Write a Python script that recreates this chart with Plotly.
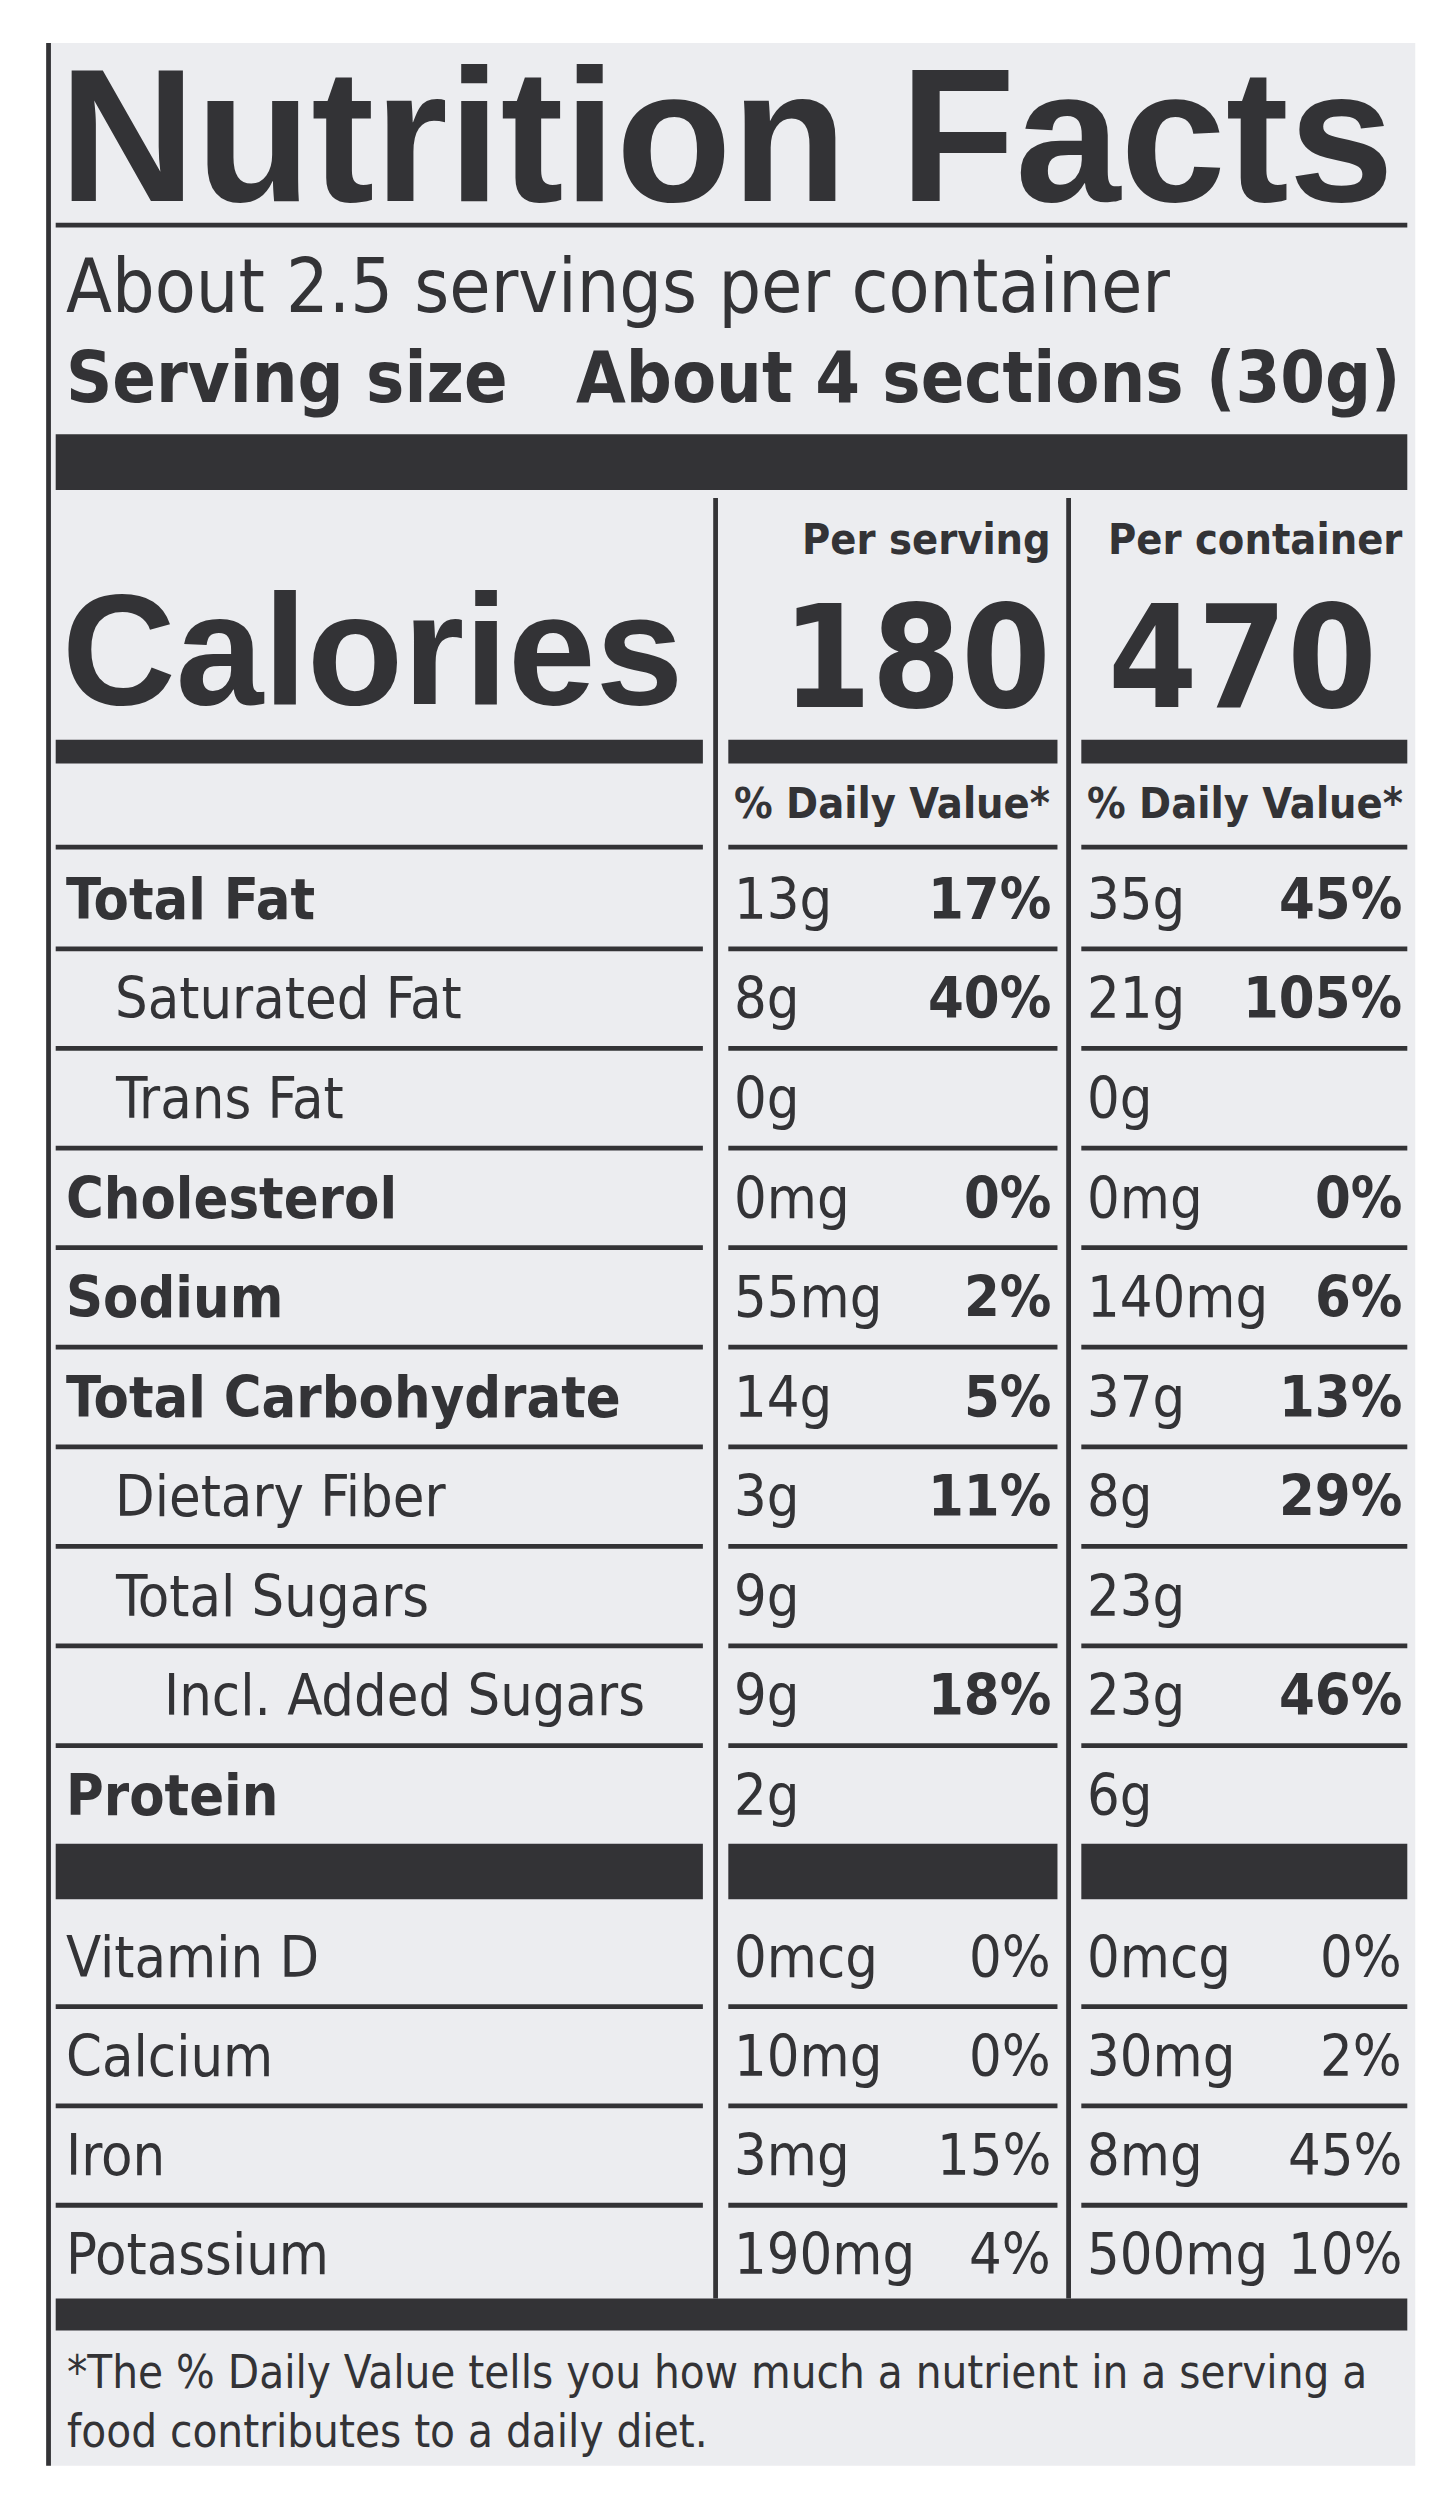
import plotly.graph_objects as go

# Nutrition label content
title = "Nutrition Facts"
servings_text = "About 2.5 servings per container"
serving_size_label = "Serving size"
serving_size_value = "About 4 sections (30g)"
calories_serving = "180"
calories_container = "470"

nutrients = ["Total Fat", "Saturated Fat", "Trans Fat", "Cholesterol", "Sodium",
             "Total Carbohydrate", "Dietary Fiber", "Total Sugars", "Incl. Added Sugars", "Protein"]
nutrient_bold = [True, False, False, True, True, True, False, False, False, True]
nutrient_indent = [0, 1, 1, 0, 0, 0, 1, 1, 2, 0]
amt_serving = ["13g", "8g", "0g", "0mg", "55mg", "14g", "3g", "9g", "9g", "2g"]
dv_serving = ["17%", "40%", "", "0%", "2%", "5%", "11%", "", "18%", ""]
amt_container = ["35g", "21g", "0g", "0mg", "140mg", "37g", "8g", "23g", "23g", "6g"]
dv_container = ["45%", "105%", "", "0%", "6%", "13%", "29%", "", "46%", ""]

vitamins = ["Vitamin D", "Calcium", "Iron", "Potassium"]
vit_amt_serving = ["0mcg", "10mg", "3mg", "190mg"]
vit_dv_serving = ["0%", "0%", "15%", "4%"]
vit_amt_container = ["0mcg", "30mg", "8mg", "500mg"]
vit_dv_container = ["0%", "2%", "45%", "10%"]

footnote = ("*The % Daily Value tells you how much a nutrient in a serving a<br>"
            "food contributes to a daily diet.")

S = 1447 / 910  # display-to-pixel scale
INK = "#333336"
BG = "#ecedf0"
NARROW = "Liberation Sans Narrow, DejaVu Sans Condensed, Arial Narrow, sans-serif"
WIDE = "Liberation Sans, Arial, sans-serif"

shapes = []
annotations = []


def rect(x0, y0, x1, y1, color=INK):
    shapes.append(dict(type="rect", xref="x", yref="y", x0=x0, y0=y0, x1=x1, y1=y1,
                       fillcolor=color, line=dict(width=0), layer="below"))


def text(x, y, s, size, bold=False, anchor="left", family=NARROW):
    if bold:
        s = "<b>" + s + "</b>"
    annotations.append(dict(x=x, y=y, xref="x", yref="y", text=s, showarrow=False,
                            xanchor=anchor, yanchor="middle",
                            font=dict(size=size * S, color=INK, family=family)))


# label background and left border
rect(24, 22, 885, 1545, BG)
rect(24, 22, 27, 1545)

L, C1a, C1b, C2a, C2b, R = 30, 437, 453, 660, 675, 880
V1, V2 = 445, 667

text(31, 80, title, 119, True, family=WIDE)
rect(L, 135, R, 138)
text(35, 175, servings_text, 47)
text(35, 232, serving_size_label, 45, True)
text(877, 232, serving_size_value, 45, True, anchor="right")
rect(L, 268, R, 303)

# column separators
rect(V1 - 1.5, 308, V1 + 1.5, 1440)
rect(V2 - 1.5, 308, V2 + 1.5, 1440)

text(657, 334, "Per serving", 27, True, anchor="right")
text(878, 334, "Per container", 27, True, anchor="right")
text(33, 403, "Calories", 99, True, family=WIDE)
text(657, 408, calories_serving, 90, True, anchor="right")
text(862, 408, calories_container, 90, True, anchor="right")

for a, b in [(L, C1a), (C1b, C2a), (C2b, R)]:
    rect(a, 460, b, 475)
    rect(a, 526, b, 529)
text(455, 500, "% Daily Value*", 27, True)
text(677, 500, "% Daily Value*", 27, True)


def row(y, name, bold, indent, a1, d1, a2, d2, dv_bold):
    text(35 + indent * 31, y, name, 36, bold)
    text(455, y, a1, 36)
    text(657, y, d1, 36, dv_bold, anchor="right")
    text(677, y, a2, 36)
    text(878, y, d2, 36, dv_bold, anchor="right")


y = 560
for i in range(len(nutrients)):
    row(y, nutrients[i], nutrient_bold[i], nutrient_indent[i],
        amt_serving[i], dv_serving[i], amt_container[i], dv_container[i], True)
    if i < len(nutrients) - 1:
        for a, b in [(L, C1a), (C1b, C2a), (C2b, R)]:
            rect(a, y + 30, b, y + 33)
    y += 62.6

for a, b in [(L, C1a), (C1b, C2a), (C2b, R)]:
    rect(a, 1154, b, 1189)

y = 1225
for i in range(len(vitamins)):
    row(y, vitamins[i], False, 0, vit_amt_serving[i], vit_dv_serving[i],
        vit_amt_container[i], vit_dv_container[i], False)
    if i < len(vitamins) - 1:
        for a, b in [(L, C1a), (C1b, C2a), (C2b, R)]:
            rect(a, y + 30, b, y + 33)
    y += 62.4

rect(L, 1440, R, 1460)
annotations.append(dict(x=36, y=1505, xref="x", yref="y", text=footnote, showarrow=False,
                        xanchor="left", yanchor="middle", align="left",
                        font=dict(size=28.5 * S, color=INK, family=NARROW)))

fig = go.Figure()
fig.update_layout(
    width=1447, height=2499, margin=dict(l=0, r=0, t=0, b=0),
    paper_bgcolor="white", plot_bgcolor="white", showlegend=False,
    xaxis=dict(range=[0, 910], visible=False, fixedrange=True),
    yaxis=dict(range=[1571, 0], visible=False, fixedrange=True),
    shapes=shapes, annotations=annotations,
)
fig.write_html("out.html")
